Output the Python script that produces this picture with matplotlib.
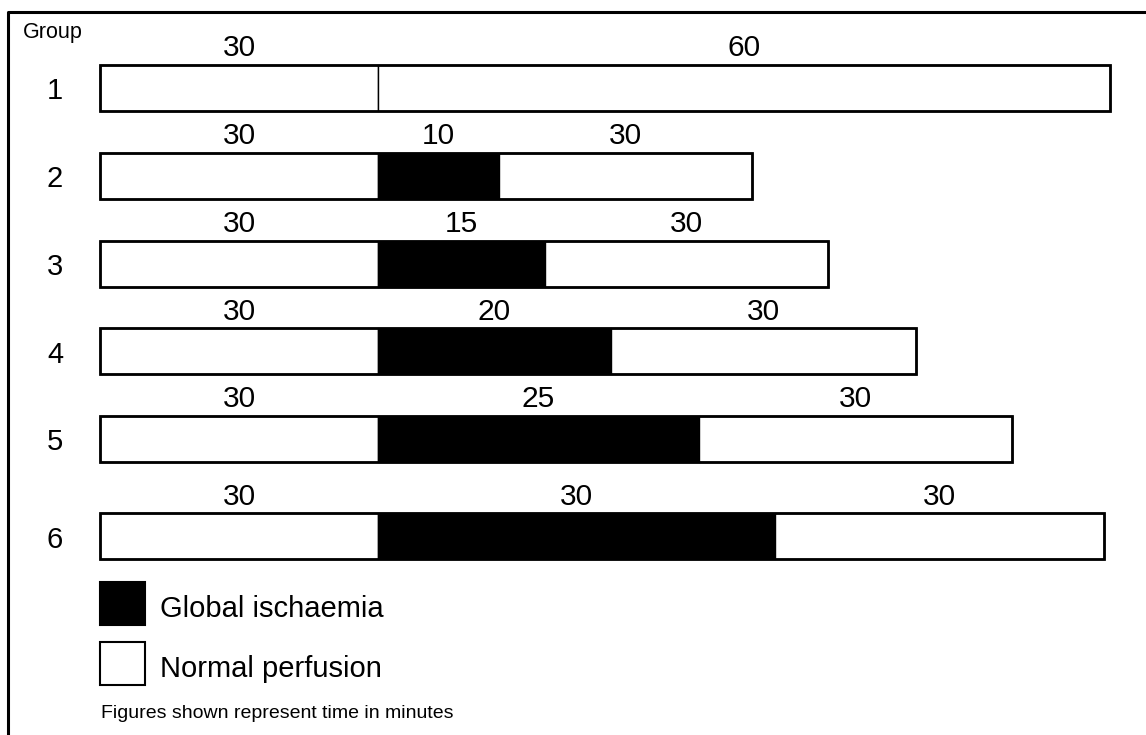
import matplotlib
matplotlib.use("Agg")
import matplotlib.pyplot as plt
from matplotlib.patches import Rectangle

plt.rcParams['font.family'] = ['Liberation Sans', 'DejaVu Sans']

# groups and protocol phases (minutes written above each block)
groups = ['1', '2', '3', '4', '5', '6']
minutes = [[30, 60],
           [30, 10, 30],
           [30, 15, 30],
           [30, 20, 30],
           [30, 25, 30],
           [30, 30, 30]]
phases = [['normal', 'normal'],
          ['normal', 'ischaemia', 'normal'],
          ['normal', 'ischaemia', 'normal'],
          ['normal', 'ischaemia', 'normal'],
          ['normal', 'ischaemia', 'normal'],
          ['normal', 'ischaemia', 'normal']]
# the blocks are schematic, not to scale -> drawn lengths read off the picture
drawn_len = [[30, 79.0],
             [30, 13.1, 27.3],
             [30, 18.0, 30.6],
             [30, 25.1, 33.0],
             [30, 34.6, 33.8],
             [30, 42.8, 35.6]]

colors = {'normal': 'white', 'ischaemia': 'black'}
legend_labels = ['Global ischaemia', 'Normal perfusion']
legend_phases = ['ischaemia', 'normal']
note = 'Figures shown represent time in minutes'

fig = plt.figure(figsize=(11.46, 7.35), dpi=100)
ax = fig.add_axes([0, 0, 1, 1])
ax.set_xlim(-10.79, 112.88)
ax.set_ylim(8.373, -0.003)
ax.axis('off')

bar_h = 0.524
rows = [float(i + 1) for i in range(len(groups))]
rows[-1] += 0.11  # last group sits a bit lower in the original

for row, g, mins, ph, lens in zip(rows, groups, minutes, phases, drawn_len):
    left = 0
    for m, p, L in zip(mins, ph, lens):
        ax.barh(row, L, left=left, height=bar_h, color=colors[p],
                edgecolor='black', linewidth=1)
        ax.text(left + L / 2, row - bar_h / 2 - 0.1, str(m), ha='center',
                va='baseline', fontsize=21.5)
        left += L
    ax.barh(row, left, height=bar_h, fill=False, edgecolor='black', linewidth=2)
    ax.text(-4.86, row + 0.13, g, ha='center', va='baseline', fontsize=21)

ax.text(-8.31, 0.373, 'Group', ha='left', va='center', fontsize=15.5)

# legend
leg_rows = [6.875, 7.56]
for r, lab, p in zip(leg_rows, legend_labels, legend_phases):
    ax.add_patch(Rectangle((0, r - 0.245), 4.86, 0.49, facecolor=colors[p],
                           edgecolor='black', linewidth=1.5))
    ax.text(6.5, r + 0.15, lab, ha='left', va='baseline', fontsize=21)

ax.text(0.1, 8.18, note, ha='left', va='baseline', fontsize=14)

# frame (only top and left edges visible in the crop)
ax.plot([0.007, 0.007, 1.0], [0.0, 0.9837, 0.9837], color='black',
        linewidth=2.2, transform=ax.transAxes, clip_on=False)

fig.savefig('out.png', dpi=100)
